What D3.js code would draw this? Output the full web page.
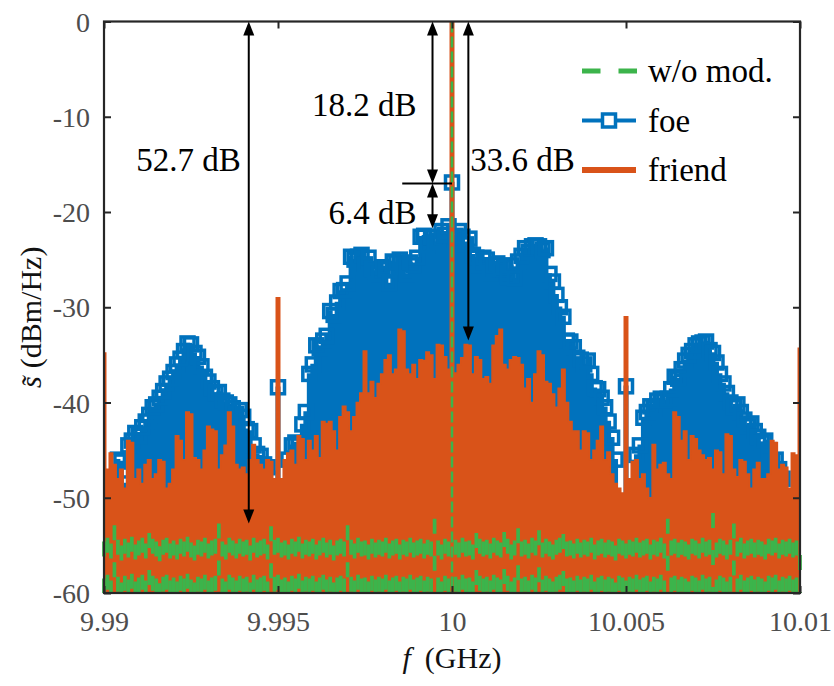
<!DOCTYPE html>
<html>
<head>
<meta charset="utf-8">
<script src="https://cdn.jsdelivr.net/npm/d3@7"></script>
<style>
  html, body { margin: 0; padding: 0; background: #fff; }
  svg { display: block; }
  svg text { font-family: "Liberation Serif", serif; }
</style>
</head>
<body>
<div id="chart"></div>
<script>
// Spectrum around the 10 GHz carrier, 201 bins of 0.1 MHz from 9.99 to 10.01 GHz
const freqStart = 9.99;
const freqStep = 0.0001;

// foe (square markers), level of each bin in dBm/Hz
const foeLevel = [
    -55, -50, -49, -48, -46, -46.2, -48.5, -44.5, -44, -43.2,
    -43.5, -42.6, -42, -41.3, -40.5, -40.2, -39.5, -38.8, -38, -37.5,
    -36.8, -36, -35.4, -34.6, -33.8, -33.9, -34.8, -35.2, -36.2, -37.3,
    -37.8, -38.5, -39, -38.9, -39.8, -40, -40.2, -40.6, -41.2, -40.8,
    -41.5, -42.8, -43, -44.5, -45.4, -45.6, -46.5, -46.8, -48, -53,
    -38.4, -55, -50, -46, -44.5, -44.2, -44.5, -42.3, -41, -37,
    -36, -34, -34.3, -33.5, -33, -30.4, -30.8, -29.5, -28.3, -28.2,
    -27.5, -24.7, -25, -24.7, -24.5, -25.5, -24.8, -26, -26.2, -26.5,
    -25.8, -26, -27.5, -25.2, -25.3, -25, -25.5, -26.5, -25.3, -25.6,
    -24.8, -22.6, -22.5, -23.5, -22.6, -23.2, -23, -22, -22.4, -21.5,
    -16.9, -22.5, -22, -22.6, -23.4, -22.8, -24.5, -24.8, -25.6, -24.8,
    -25, -26.4, -25.6, -25.4, -26, -25.8, -26.8, -25.6, -27, -25.2,
    -24.6, -23.8, -24.2, -23.6, -23.5, -23.6, -24, -23.8, -26.5, -27.3,
    -28.7, -30, -31, -33.5, -33.6, -34.2, -35.3, -35.5, -36, -35.6,
    -37, -38.5, -38.6, -39.5, -40.5, -42, -43.7, -46, -52, -55,
    -38.3, -54, -49, -45.5, -44.5, -41.6, -41, -40.4, -40.6, -39.8,
    -39.6, -39.8, -39.6, -38.6, -37.3, -37.5, -36.5, -35.6, -35, -34.6,
    -34, -33.8, -33.7, -33.6, -34.5, -34.8, -35.8, -37, -38, -39,
    -40, -40.5, -40.2, -41, -41.8, -42.5, -42.2, -43, -43.6, -44.2,
    -44, -45, -46.2, -46, -47, -48, -52, -54, -53, -55,
    -56
];

// friend
const friendLevel = [
    -34.8, -47, -45.3, -46.5, -48, -47, -49, -44, -44.2, -48,
    -47, -48.5, -46.5, -46, -48, -47.5, -46, -46.2, -49, -48.5,
    -47, -43.5, -44, -46, -41, -41.2, -45.8, -46, -47, -45,
    -42.5, -42.8, -43, -47, -45.5, -44.5, -41, -42.5, -46.5, -47,
    -46.8, -47.5, -46, -44.4, -46, -46.5, -47, -46, -46.2, -48,
    -29, -48, -46, -45.3, -45, -46.5, -43.5, -43.8, -46, -44,
    -45, -43.5, -45.8, -42, -42.2, -42, -43, -45, -41.5, -40.4,
    -41, -43, -41.5, -40, -39, -34.6, -39, -37.8, -39.5, -38,
    -37, -35.5, -35, -37, -36.5, -32.3, -32.5, -36.5, -37, -36,
    -37.5, -35.5, -35.6, -34.7, -35, -37.5, -33.9, -34, -35.2, -36.5,
    0, -36.9, -36, -35.3, -33.9, -34, -37, -35.2, -35.5, -37.5,
    -37.3, -38, -34, -33, -32.3, -36, -36.5, -35.5, -35.2, -35.3,
    -36, -38.5, -37.5, -40, -37, -34.6, -35, -37.8, -38, -39.1,
    -40.5, -38.5, -36.5, -40, -42, -43, -43, -45, -43, -43.2,
    -46, -45, -44, -42.5, -46, -45.2, -47.5, -48.5, -49, -49.5,
    -31, -48, -46.2, -46, -48, -47.5, -49, -50, -44.4, -47,
    -46.5, -46.3, -47.5, -48, -41, -41.5, -44, -43, -46, -43.5,
    -43.8, -45, -45.5, -46, -45.8, -47, -45, -45.2, -47.5, -43.3,
    -43.5, -47, -47.8, -46, -46.2, -47.5, -49, -47, -46.3, -48,
    -48, -47.5, -44, -44.2, -47, -46.5, -46.8, -49, -45.3, -45.5,
    -34.3
];

// w/o mod.
const noModLevel = [
    -54.6, -54.2, -54.8, -52.9, -54.4, -55, -54.3, -54.7, -54.1, -54.9,
    -54.5, -54.2, -54.8, -53.7, -54.3, -54.6, -55.1, -54.4, -54.2, -54.8,
    -54.5, -54.9, -54.3, -54.6, -54.1, -54.7, -55, -54.4, -54.6, -54.2,
    -54.8, -54.5, -54.3, -52.7, -54.6, -54.9, -54.2, -54.5, -54.8, -54.3,
    -54.6, -54.4, -55, -54.2, -54.7, -54.5, -54.3, -54.9, -53, -54.4,
    -54.2, -54.7, -54.5, -54.9, -54.3, -54.6, -54.1, -54.8, -54.4, -54.6,
    -54.3, -54.9, -54.5, -54.2, -54.7, -54.4, -55, -54.5, -54.3, -54.6,
    -52.9, -54.4, -54.8, -54.2, -54.6, -54.5, -54.9, -54.3, -54.7, -54.4,
    -54.6, -54.2, -54.8, -54.5, -54.3, -54.9, -54.4, -54.6, -54.2, -54.7,
    -54.5, -54.3, -54.8, -54.4, -54.6, -52.2, -54.5, -54.9, -54.3, -54.6,
    0, -54.4, -54.7, -54.2, -54.6, -54.5, -54.9, -53.7, -54.3, -54.6,
    -54.4, -54.8, -54.2, -54.5, -54.7, -53.6, -54.3, -54.9, -54.5, -53.2,
    -54.6, -54.4, -54.8, -54.2, -54.5, -53.4, -54.7, -54.3, -54.6, -54.9,
    -54.4, -54.2, -53.8, -54.6, -54.5, -54.8, -54.3, -54.7, -54.4, -54.6,
    -54.2, -54.9, -54.5, -54.3, -54.7, -54.4, -54.6, -55, -54.3, -54.5,
    -54.8, -54.4, -54.6, -54.2, -54.7, -54.5, -54.3, -54.9, -54.4, -54.6,
    -54.2, -54.8, -52.2, -54.5, -54.3, -54.7, -54.4, -54.6, -54.9, -54.3,
    -54.5, -54.8, -54.2, -54.6, -54.4, -51.6, -54.7, -54.3, -54.5, -54.9,
    -54.4, -52.7, -54.6, -54.2, -54.8, -54.5, -54.3, -54.7, -54.4, -54.6,
    -54.9, -54.3, -54.5, -54.2, -54.8, -54.4, -54.6, -54.3, -54.7, -54.5,
    -56
];

const seriesNames = ["w/o mod.", "foe", "friend"];

const xTicks = [9.99, 9.995, 10, 10.005, 10.01];
const xTickLabels = ["9.99", "9.995", "10", "10.005", "10.01"];
const yTicks = [0, -10, -20, -30, -40, -50, -60];
const yTickLabels = ["0", "-10", "-20", "-30", "-40", "-50", "-60"];

// gap annotations (double arrows)
const gapLabels = ["52.7 dB", "18.2 dB", "6.4 dB", "33.6 dB"];
const gapFreq = [9.99416, 9.99944, 9.99944, 10.00047];
const gapHigh = [0, 0, -17, 0];
const gapLow = [-52.7, -17, -21.7, -33.5];
const refLineFreq = [9.99857, 10];
const refLineLevel = -17;

const colors = { noMod: "#3cb44b", foe: "#0072bd", friend: "#d95319" };
const serif = '"Liberation Serif", "Times New Roman", serif';

const width = 834, height = 686;
const plot = { left: 104, right: 800, top: 21.5, bottom: 593 };
const axisColor = "#262626";

const svg = d3.select("#chart")
    .append("svg")
    .attr("width", width)
    .attr("height", height);

const x = d3.scaleLinear().domain([9.99, 10.01]).range([plot.left, plot.right]);
const y = d3.scaleLinear().domain([-60, 0]).range([plot.bottom, plot.top]);

const bins = foeLevel.map((v, i) => ({
    f: freqStart + i * freqStep,
    foe: v,
    friend: friendLevel[i],
    noMod: noModLevel[i]
}));

// Clip regions
const defs = svg.append("defs");
defs.append("clipPath").attr("id", "clip-data")
    .append("rect")
    .attr("x", plot.left - 3).attr("y", plot.top)
    .attr("width", plot.right - plot.left + 6).attr("height", plot.bottom - plot.top);
defs.append("clipPath").attr("id", "clip-marks")
    .append("rect")
    .attr("x", plot.left).attr("y", plot.top)
    .attr("width", plot.right - plot.left).attr("height", plot.bottom - plot.top);

const floorY = y(-62);

// foe
const foeArea = d3.area()
    .x(d => x(d.f)).y0(floorY).y1(d => y(d.foe))
    .curve(d3.curveStep);

svg.append("path")
    .datum(bins)
    .attr("clip-path", "url(#clip-data)")
    .attr("d", foeArea)
    .attr("fill", colors.foe)
    .attr("stroke", colors.foe)
    .attr("stroke-width", 1.5);

svg.append("g")
    .attr("clip-path", "url(#clip-marks)")
    .selectAll("rect")
    .data(bins)
    .join("rect")
    .attr("x", d => x(d.f) - 6.5)
    .attr("y", d => y(d.foe) - 6.5)
    .attr("width", 13)
    .attr("height", 13)
    .attr("fill", "none")
    .attr("stroke", colors.foe)
    .attr("stroke-width", 3.5);

// friend
const friendArea = d3.area()
    .x(d => x(d.f)).y0(floorY).y1(d => y(d.friend))
    .curve(d3.curveStep);

svg.append("path")
    .datum(bins)
    .attr("clip-path", "url(#clip-data)")
    .attr("d", friendArea)
    .attr("fill", colors.friend)
    .attr("stroke", colors.friend)
    .attr("stroke-width", 1.5);

// w/o mod. (dashed, one stroke per bin)
svg.append("g")
    .attr("clip-path", "url(#clip-data)")
    .selectAll("line")
    .data(bins)
    .join("line")
    .attr("x1", d => x(d.f))
    .attr("x2", d => x(d.f))
    .attr("y1", d => y(d.noMod))
    .attr("y2", floorY)
    .attr("stroke", colors.noMod)
    .attr("stroke-width", d => d.noMod > -40 ? 2.5 : 3.7)
    .attr("stroke-dasharray", d => d.noMod > -40 ? "11,4" : "15,22");

// Axes: ticks inward on all four sides
function styleAxis(g) {
    g.attr("font-family", null).attr("font-size", null);
    g.select(".domain").remove();
    g.selectAll(".tick line").attr("stroke", axisColor).attr("stroke-width", 2);
    g.selectAll(".tick text")
        .attr("fill", "#4d4d4d")
        .style("font-family", serif)
        .style("font-size", "28px");
}

svg.append("g")
    .attr("transform", `translate(0,${plot.bottom})`)
    .call(d3.axisBottom(x).tickValues(xTicks).tickSize(-7).tickPadding(18)
        .tickFormat((d, i) => xTickLabels[i]))
    .call(styleAxis);

svg.append("g")
    .attr("transform", `translate(0,${plot.top})`)
    .call(d3.axisTop(x).tickValues(xTicks).tickSize(-7).tickFormat(""))
    .call(styleAxis);

svg.append("g")
    .attr("transform", `translate(${plot.left},0)`)
    .call(d3.axisLeft(y).tickValues(yTicks).tickSize(-7).tickPadding(14)
        .tickFormat((d, i) => yTickLabels[i]))
    .call(styleAxis)
    .call(g => g.selectAll(".tick text").attr("dy", "0.34em"));

svg.append("g")
    .attr("transform", `translate(${plot.right},0)`)
    .call(d3.axisRight(y).tickValues(yTicks).tickSize(-7).tickFormat(""))
    .call(styleAxis);

svg.append("rect")
    .attr("x", plot.left).attr("y", plot.top)
    .attr("width", plot.right - plot.left)
    .attr("height", plot.bottom - plot.top)
    .attr("fill", "none")
    .attr("stroke", axisColor)
    .attr("stroke-width", 2.2);

// Axis titles
svg.append("text")
    .attr("x", (plot.left + plot.right) / 2)
    .attr("y", 668)
    .attr("text-anchor", "middle")
    .style("font-family", serif)
    .style("font-size", "30px")
    .attr("fill", "#111")
    .call(t => {
        t.append("tspan").attr("font-style", "italic").text("f");
        t.append("tspan").attr("dx", 14).text("(GHz)");
    });

svg.append("text")
    .attr("transform", `translate(41,${(plot.top + plot.bottom) / 2 + 10}) rotate(-90)`)
    .attr("text-anchor", "middle")
    .style("font-family", serif)
    .style("font-size", "30px")
    .attr("fill", "#111")
    .call(t => {
        t.append("tspan").attr("font-style", "italic").text("s\u0303");
        t.append("tspan").attr("dx", 8).text("(dBm/Hz)");
    });

// Annotations
const ann = svg.append("g").attr("stroke", "#000").attr("fill", "#000");

function arrowHead(px, py, dir) {
    // dir = 1 tip points up, -1 tip points down
    const len = 14, half = 5.5;
    return `M${px},${py}L${px - half},${py + dir * len}L${px + half},${py + dir * len}Z`;
}

const labelLayout = [
    { anchor: "end", dx: -8, y: 171 },
    { anchor: "end", dx: -16, y: 116 },
    { anchor: "end", dx: -16, y: 224 },
    { anchor: "start", dx: 2, y: 171 }
];

gapLabels.forEach((label, i) => {
    const px = x(gapFreq[i]);
    const y1 = y(gapHigh[i]);
    const y2 = y(gapLow[i]);
    ann.append("line")
        .attr("x1", px).attr("x2", px)
        .attr("y1", y1 + 4).attr("y2", y2 - 4)
        .attr("stroke-width", 2);
    ann.append("path").attr("d", arrowHead(px, y1, 1)).attr("stroke", "none");
    ann.append("path").attr("d", arrowHead(px, y2, -1)).attr("stroke", "none");
    ann.append("text")
        .attr("x", px + labelLayout[i].dx)
        .attr("y", labelLayout[i].y)
        .attr("text-anchor", labelLayout[i].anchor)
        .attr("stroke", "none")
        .style("font-family", serif)
        .style("font-size", "33px")
        .text(label);
});

ann.append("line")
    .attr("x1", x(refLineFreq[0])).attr("x2", x(refLineFreq[1]))
    .attr("y1", y(refLineLevel)).attr("y2", y(refLineLevel))
    .attr("stroke-width", 2);

// Legend
const legend = svg.append("g").attr("transform", "translate(582,71)");
const rowGap = 49.5;

seriesNames.forEach((name, i) => {
    const row = legend.append("g").attr("transform", `translate(0,${i * rowGap})`);
    if (i === 0) {
        row.append("line").attr("x1", 0).attr("x2", 55)
            .attr("stroke", colors.noMod).attr("stroke-width", 5)
            .attr("stroke-dasharray", "18.5,18");
    } else if (i === 1) {
        row.append("line").attr("x1", 0).attr("x2", 54)
            .attr("stroke", colors.foe).attr("stroke-width", 4);
        row.append("rect").attr("x", 20.5).attr("y", -6.5)
            .attr("width", 13).attr("height", 13)
            .attr("fill", "#fff")
            .attr("stroke", colors.foe).attr("stroke-width", 3.5);
    } else {
        row.append("line").attr("x1", 0).attr("x2", 54)
            .attr("stroke", colors.friend).attr("stroke-width", 6);
    }
    row.append("text")
        .attr("x", 66)
        .attr("y", 11)
        .style("font-family", serif)
        .style("font-size", "33px")
        .attr("fill", "#000")
        .text(name);
});
</script>
</body>
</html>
